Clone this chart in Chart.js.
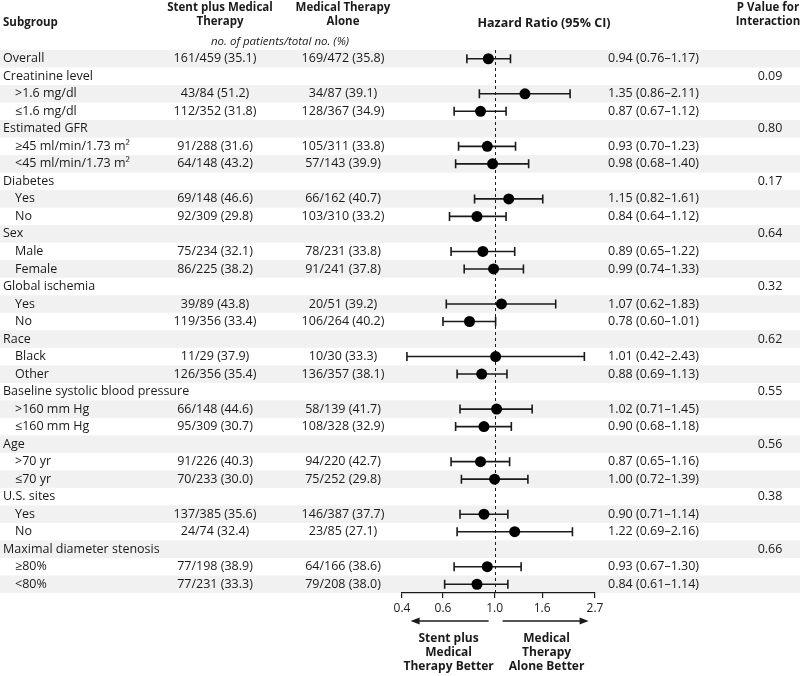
<!DOCTYPE html>
<html>
<head>
<meta charset="utf-8">
<script src="https://cdn.jsdelivr.net/npm/chart.js@4.4.1/dist/chart.umd.min.js"></script>
<style>
  html, body { margin: 0; padding: 0; background: #fff; }
</style>
</head>
<body>
<canvas id="forest" width="800" height="676"></canvas>
<script>
// rows, top to bottom
const subgroups = [
    'Overall',
    'Creatinine level', '>1.6 mg/dl', '≤1.6 mg/dl',
    'Estimated GFR', '≥45 ml/min/1.73 m²', '<45 ml/min/1.73 m²',
    'Diabetes', 'Yes', 'No',
    'Sex', 'Male', 'Female',
    'Global ischemia', 'Yes', 'No',
    'Race', 'Black', 'Other',
    'Baseline systolic blood pressure', '>160 mm Hg', '≤160 mm Hg',
    'Age', '>70 yr', '≤70 yr',
    'U.S. sites', 'Yes', 'No',
    'Maximal diameter stenosis', '≥80%', '<80%'
];
const stentCounts = [
    '161/459 (35.1)',
    null, '43/84 (51.2)', '112/352 (31.8)',
    null, '91/288 (31.6)', '64/148 (43.2)',
    null, '69/148 (46.6)', '92/309 (29.8)',
    null, '75/234 (32.1)', '86/225 (38.2)',
    null, '39/89 (43.8)', '119/356 (33.4)',
    null, '11/29 (37.9)', '126/356 (35.4)',
    null, '66/148 (44.6)', '95/309 (30.7)',
    null, '91/226 (40.3)', '70/233 (30.0)',
    null, '137/385 (35.6)', '24/74 (32.4)',
    null, '77/198 (38.9)', '77/231 (33.3)'
];
const medicalCounts = [
    '169/472 (35.8)',
    null, '34/87 (39.1)', '128/367 (34.9)',
    null, '105/311 (33.8)', '57/143 (39.9)',
    null, '66/162 (40.7)', '103/310 (33.2)',
    null, '78/231 (33.8)', '91/241 (37.8)',
    null, '20/51 (39.2)', '106/264 (40.2)',
    null, '10/30 (33.3)', '136/357 (38.1)',
    null, '58/139 (41.7)', '108/328 (32.9)',
    null, '94/220 (42.7)', '75/252 (29.8)',
    null, '146/387 (37.7)', '23/85 (27.1)',
    null, '64/166 (38.6)', '79/208 (38.0)'
];
const hazard = [
    0.94,
    null, 1.35, 0.87,
    null, 0.93, 0.98,
    null, 1.15, 0.84,
    null, 0.89, 0.99,
    null, 1.07, 0.78,
    null, 1.01, 0.88,
    null, 1.02, 0.90,
    null, 0.87, 1.00,
    null, 0.90, 1.22,
    null, 0.93, 0.84
];
const ciLow = [
    0.76,
    null, 0.86, 0.67,
    null, 0.70, 0.68,
    null, 0.82, 0.64,
    null, 0.65, 0.74,
    null, 0.62, 0.60,
    null, 0.42, 0.69,
    null, 0.71, 0.68,
    null, 0.65, 0.72,
    null, 0.71, 0.69,
    null, 0.67, 0.61
];
const ciHigh = [
    1.17,
    null, 2.11, 1.12,
    null, 1.23, 1.40,
    null, 1.61, 1.12,
    null, 1.22, 1.33,
    null, 1.83, 1.01,
    null, 2.43, 1.13,
    null, 1.45, 1.18,
    null, 1.16, 1.39,
    null, 1.14, 2.16,
    null, 1.30, 1.14
];
const pInteraction = [
    null,
    '0.09', null, null,
    '0.80', null, null,
    '0.17', null, null,
    '0.64', null, null,
    '0.32', null, null,
    '0.62', null, null,
    '0.55', null, null,
    '0.56', null, null,
    '0.38', null, null,
    '0.66', null, null
];
const xTicks = [0.4, 0.6, 1.0, 1.6, 2.7];

const FONT = '"Open Sans", "DejaVu Sans", sans-serif';
const INK = '#1a1a1a';

function fmt(v) { return v.toFixed(2); }

const forestPlugin = {
    id: 'forest',
    beforeDraw(chart) {
        const ctx = chart.ctx;
        const y = chart.scales.y;
        const rowH = Math.abs(y.getPixelForValue(1) - y.getPixelForValue(0));
        ctx.save();
        ctx.fillStyle = '#fff';
        ctx.fillRect(0, 0, chart.width, chart.height);
        ctx.fillStyle = '#f1f1f1';
        subgroups.forEach((s, i) => {
            if (i % 2 !== 0) return;
            const cy = y.getPixelForValue(i);
            ctx.fillRect(0, cy - rowH / 2, chart.width, rowH);
        });
        ctx.restore();
    },
    beforeDatasetsDraw(chart) {
        const ctx = chart.ctx;
        const x = chart.scales.x;
        const y = chart.scales.y;
        const area = chart.chartArea;
        ctx.save();

        // line of no effect
        const x1 = x.getPixelForValue(1);
        ctx.strokeStyle = INK;
        ctx.lineWidth = 1;
        ctx.setLineDash([3, 3]);
        ctx.beginPath();
        ctx.moveTo(Math.round(x1) + 0.5, area.top);
        ctx.lineTo(Math.round(x1) + 0.5, area.bottom);
        ctx.stroke();
        ctx.setLineDash([]);

        // confidence intervals
        ctx.lineWidth = 1.6;
        hazard.forEach((h, i) => {
            if (h == null) return;
            const cy = y.getPixelForValue(i);
            const xl = x.getPixelForValue(ciLow[i]);
            const xh = x.getPixelForValue(ciHigh[i]);
            ctx.beginPath();
            ctx.moveTo(xl, cy); ctx.lineTo(xh, cy);
            ctx.moveTo(xl, cy - 4.5); ctx.lineTo(xl, cy + 4.5);
            ctx.moveTo(xh, cy - 4.5); ctx.lineTo(xh, cy + 4.5);
            ctx.stroke();
        });
        ctx.restore();
    },
    afterDraw(chart) {
        const ctx = chart.ctx;
        const x = chart.scales.x;
        const y = chart.scales.y;
        ctx.save();
        ctx.fillStyle = INK;
        ctx.textBaseline = 'middle';

        // column headers
        ctx.font = 'bold 11.5px ' + FONT;
        ctx.textAlign = 'left';
        ctx.fillText('Subgroup', 3, 23);
        ctx.textAlign = 'center';
        ctx.fillText('Stent plus Medical', 220, 8);
        ctx.fillText('Therapy', 220, 22);
        ctx.fillText('Medical Therapy', 343, 8);
        ctx.fillText('Alone', 343, 22);
        ctx.font = 'bold 12.5px ' + FONT;
        ctx.fillText('Hazard Ratio (95% CI)', 544, 23);
        ctx.font = 'bold 11.5px ' + FONT;
        ctx.fillText('P Value for', 768, 8);
        ctx.fillText('Interaction', 768, 22);
        ctx.font = 'italic 11.5px ' + FONT;
        ctx.fillText('no. of patients/total no. (%)', 280, 42);

        // table body
        ctx.font = '12.5px ' + FONT;
        subgroups.forEach((s, i) => {
            const cy = y.getPixelForValue(i);
            const sub = i > 0 && hazard[i] != null;
            ctx.textAlign = 'left';
            ctx.fillText(s, sub ? 15 : 3, cy);
            ctx.textAlign = 'center';
            if (stentCounts[i]) ctx.fillText(stentCounts[i], 215, cy);
            if (medicalCounts[i]) ctx.fillText(medicalCounts[i], 343, cy);
            if (pInteraction[i]) ctx.fillText(pInteraction[i], 770, cy);
            if (hazard[i] != null) {
                ctx.textAlign = 'left';
                ctx.fillText(fmt(hazard[i]) + ' (' + fmt(ciLow[i]) + '\u2013' + fmt(ciHigh[i]) + ')', 608, cy);
            }
        });

        // direction arrows under the axis
        const x1 = x.getPixelForValue(1);
        const ay = 621;
        ctx.strokeStyle = INK;
        ctx.lineWidth = 1.5;
        ctx.beginPath();
        ctx.moveTo(x1 - 6, ay); ctx.lineTo(x1 - 76, ay);
        ctx.moveTo(x1 + 8, ay); ctx.lineTo(x1 + 86, ay);
        ctx.stroke();
        ctx.beginPath();
        ctx.moveTo(x1 - 84, ay); ctx.lineTo(x1 - 75, ay - 3.5); ctx.lineTo(x1 - 75, ay + 3.5);
        ctx.closePath();
        ctx.moveTo(x1 + 94, ay); ctx.lineTo(x1 + 85, ay - 3.5); ctx.lineTo(x1 + 85, ay + 3.5);
        ctx.closePath();
        ctx.fill();

        ctx.font = 'bold 12px ' + FONT;
        ctx.textAlign = 'center';
        ['Stent plus', 'Medical', 'Therapy Better'].forEach((t, k) => ctx.fillText(t, x1 - 46, 639 + k * 14));
        ['Medical', 'Therapy', 'Alone Better'].forEach((t, k) => ctx.fillText(t, x1 + 52, 639 + k * 14));
        ctx.restore();
    }
};

new Chart(document.getElementById('forest'), {
    type: 'scatter',
    data: {
        datasets: [{
            data: hazard.map((h, i) => h == null ? null : { x: h, y: i }).filter(p => p),
            backgroundColor: '#000',
            borderWidth: 0,
            pointRadius: 5.5,
            pointHoverRadius: 5.5
        }]
    },
    options: {
        responsive: false,
        animation: false,
        layout: { padding: { left: 402, right: 205, top: 50, bottom: 63 } },
        plugins: { legend: { display: false }, tooltip: { enabled: false } },
        scales: {
            x: {
                type: 'logarithmic',
                min: 0.4,
                max: 2.7,
                afterBuildTicks: (scale) => { scale.ticks = xTicks.map(v => ({ value: v })); },
                afterFit: (scale) => { scale.height = 20; },
                border: { display: true, color: INK, width: 1.2 },
                grid: { drawOnChartArea: false, drawTicks: true, tickLength: 5, color: INK, lineWidth: 1.2 },
                ticks: {
                    autoSkip: false, maxRotation: 0, padding: 3, color: INK,
                    font: { family: FONT, size: 12 },
                    callback: (v) => Number(v).toFixed(1)
                }
            },
            y: {
                type: 'linear',
                min: -0.5,
                max: subgroups.length - 0.5,
                reverse: true,
                display: false
            }
        }
    },
    plugins: [forestPlugin]
});
</script>
</body>
</html>
